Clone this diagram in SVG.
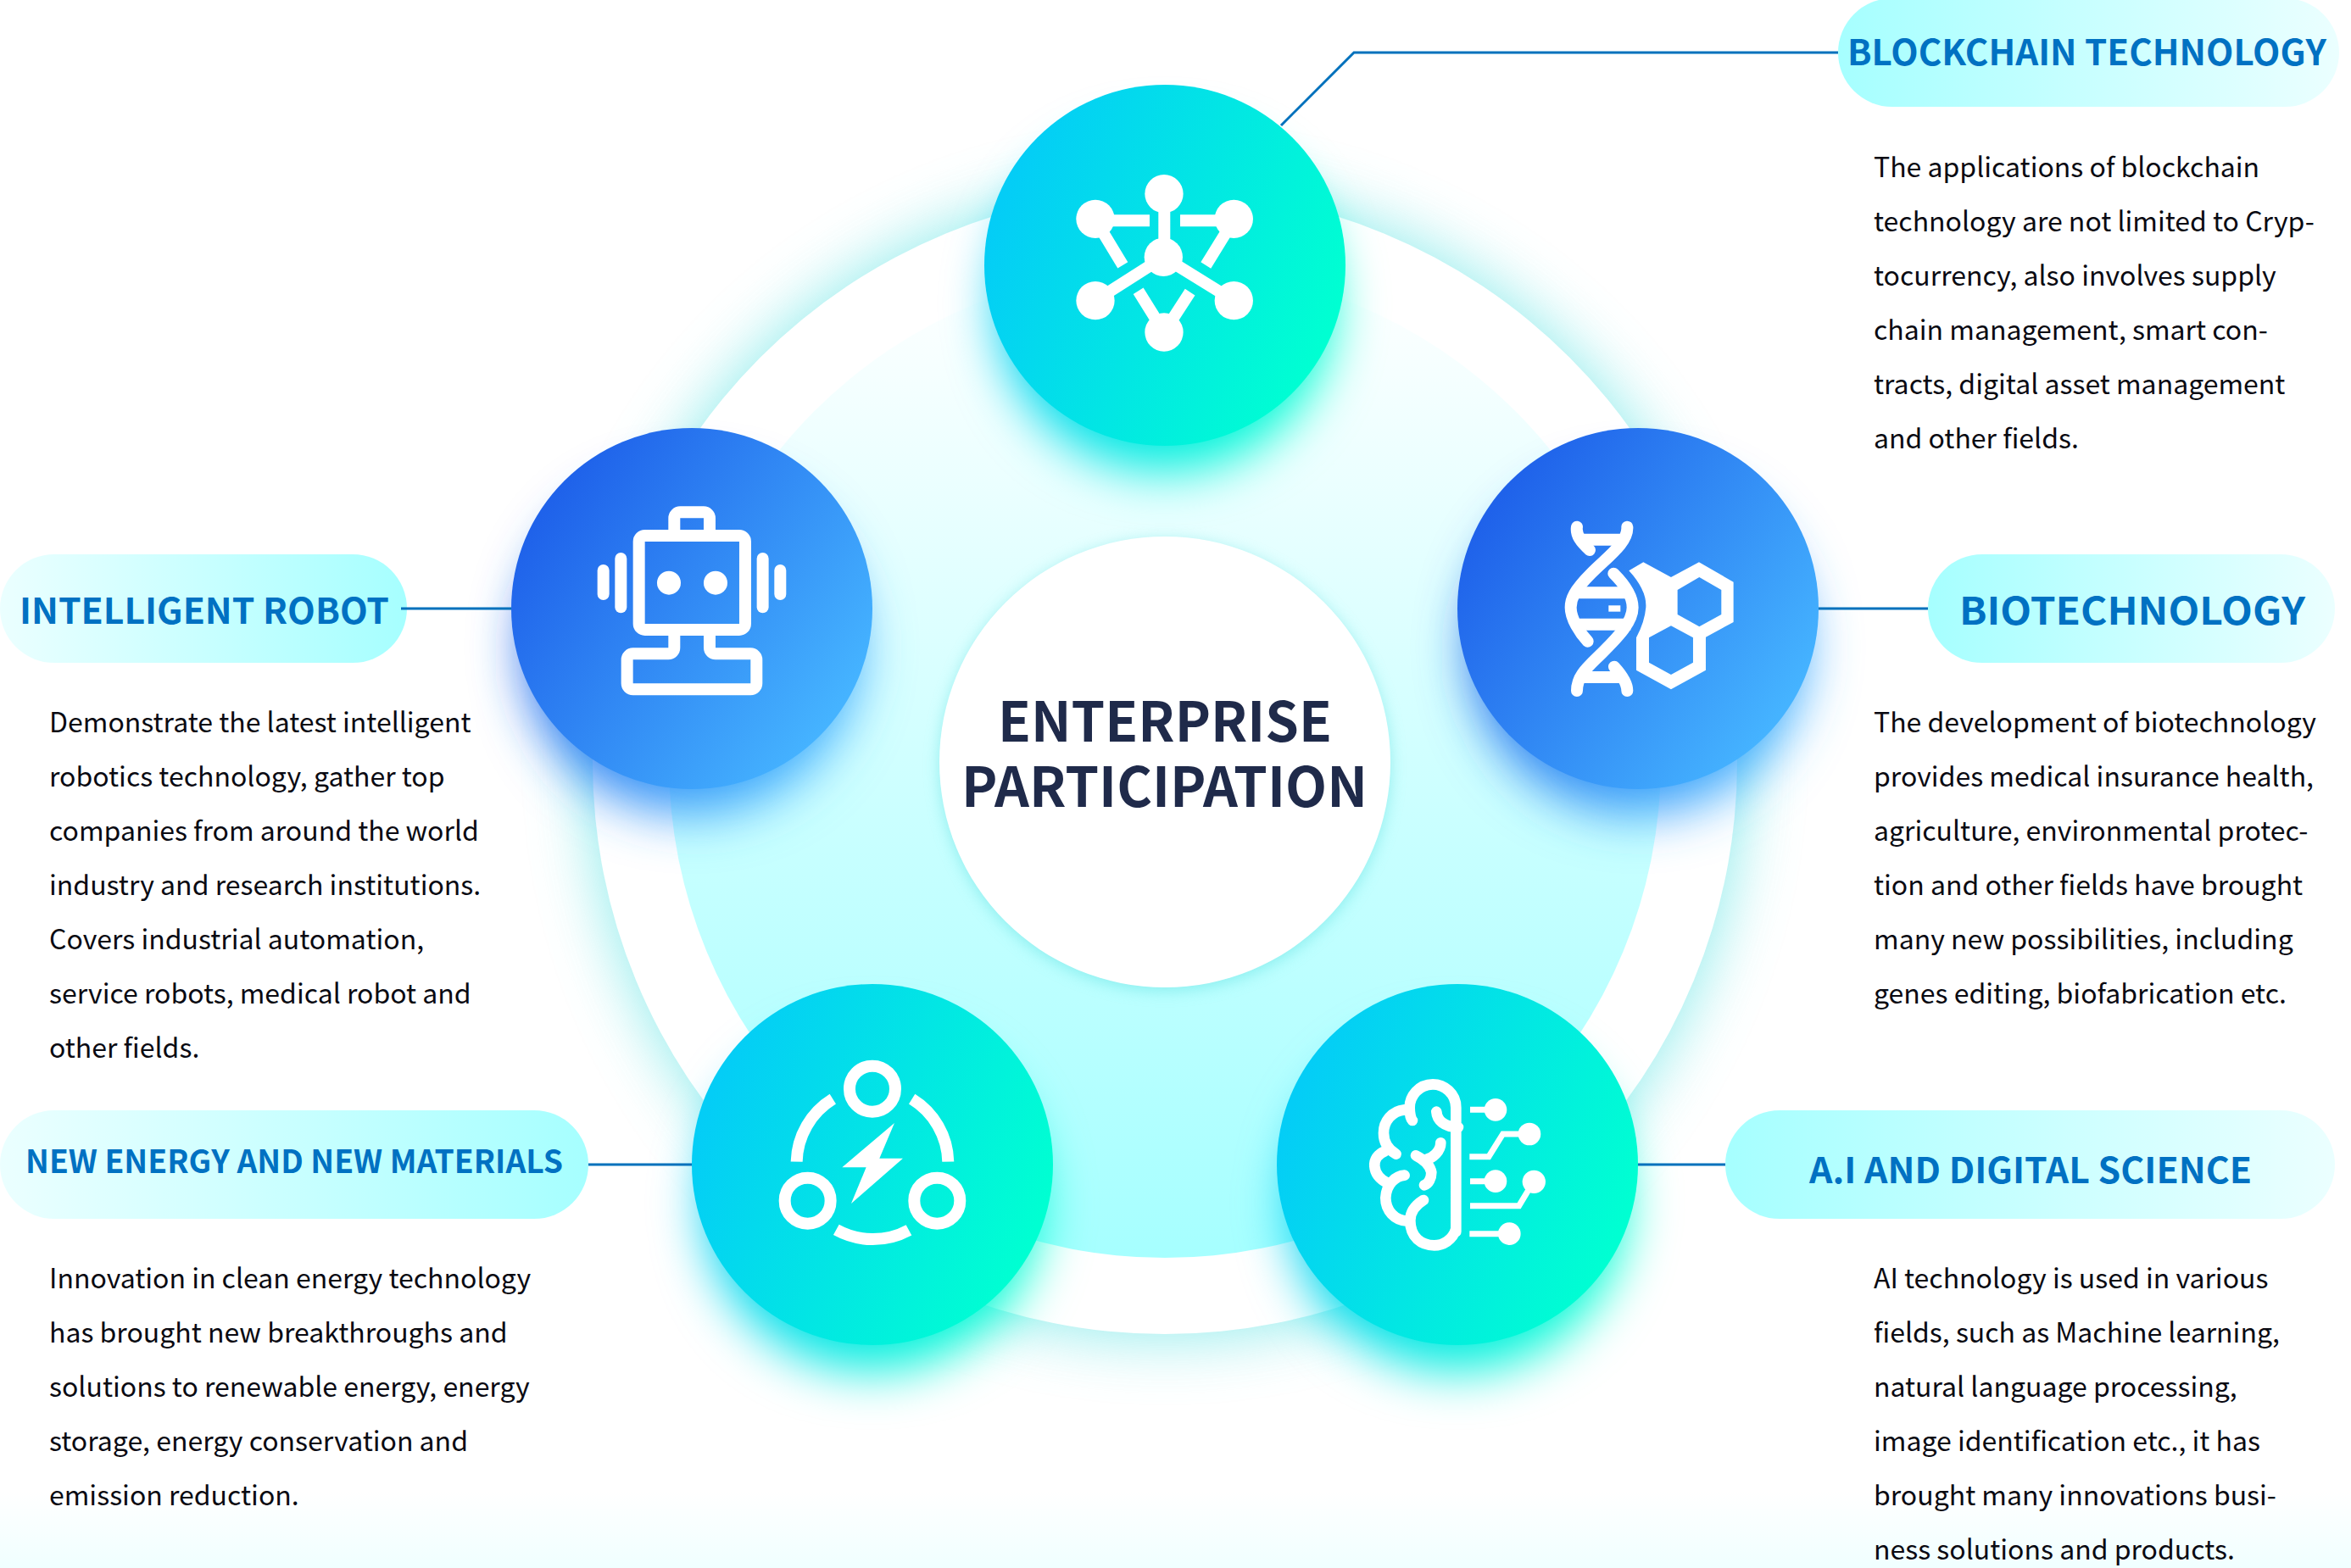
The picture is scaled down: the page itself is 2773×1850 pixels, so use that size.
<svg xmlns="http://www.w3.org/2000/svg" width="2773" height="1850" viewBox="0 0 2773 1850">
<style>
text{font-family:"Noto Sans CJK SC","Noto Sans",sans-serif}
.b{font-size:32px;fill:#0a0a12}
.h{font-size:42px;font-weight:700;fill:#0071c2}
.c{font-size:65px;font-weight:700;fill:#1f2a4a}
.w{fill:#fff}
.s{fill:none;stroke:#fff;stroke-width:42}
.r{fill:none;stroke:#fff;stroke-linecap:round;stroke-linejoin:round}
.ln{fill:none;stroke:#0071bc;stroke-width:3}
</style>
<defs>
<linearGradient id="teal" x1=".05" y1=".32" x2=".95" y2=".68"><stop offset="0" stop-color="#04cdf6"/><stop offset="1" stop-color="#00ffd2"/></linearGradient>
<linearGradient id="blue" x1=".1" y1=".22" x2=".9" y2=".78"><stop offset="0" stop-color="#1f62ea"/><stop offset="1" stop-color="#45b3ff"/></linearGradient>
<linearGradient id="pl"><stop offset="0" stop-color="#ebffff"/><stop offset="1" stop-color="#a6ffff"/></linearGradient>
<linearGradient id="pr"><stop offset="0" stop-color="#a6ffff"/><stop offset="1" stop-color="#ebffff"/></linearGradient>
<linearGradient id="disc" x1="0" y1="0" x2="0" y2="1"><stop offset="0" stop-color="#ffffff"/><stop offset=".25" stop-color="#e8ffff"/><stop offset=".6" stop-color="#c6ffff"/><stop offset="1" stop-color="#a6ffff"/></linearGradient>
<linearGradient id="bg" x1="0" y1="0" x2="0" y2="1"><stop offset="0" stop-color="#fff"/><stop offset="1" stop-color="#f0ffff"/></linearGradient>
<filter id="blur" x="-50%" y="-50%" width="200%" height="200%"><feGaussianBlur stdDeviation="30"/></filter>
<filter id="glow" x="-30%" y="-30%" width="160%" height="160%"><feGaussianBlur stdDeviation="36"/></filter>
<filter id="g2" x="-20%" y="-20%" width="140%" height="140%"><feGaussianBlur stdDeviation="9"/></filter>
</defs>
<rect width="2773" height="1850" fill="#fff"/>
<rect y="1760" width="2773" height="90" fill="url(#bg)"/>
<g id="ring">
<circle cx="1374" cy="899" r="680" fill="#6fe6e6" opacity=".75" filter="url(#glow)"/>
<circle cx="1374" cy="899" r="675" fill="#fff"/>
<circle cx="1374" cy="899" r="585" fill="url(#disc)"/>
</g>
<g id="center">
<circle cx="1374" cy="903" r="266" fill="#58dede" opacity=".5" filter="url(#g2)"/>
<circle cx="1374" cy="899" r="266" fill="#fff"/>
<text class="c" x="1177" y="875" textLength="394" lengthAdjust="spacingAndGlyphs">ENTERPRISE</text>
<text class="c" x="1134" y="952" textLength="479" lengthAdjust="spacingAndGlyphs">PARTICIPATION</text>
</g>
<g id="blockchain">
<rect x="2168" y="-2" width="591" height="128" rx="64" fill="url(#pr)"/>
<text class="h" x="2179" y="77" textLength="565" lengthAdjust="spacingAndGlyphs">BLOCKCHAIN TECHNOLOGY</text>
<text class="b"><tspan x="2210" y="209">The applications of blockchain</tspan><tspan x="2210" y="273">technology are not limited to Cryp-</tspan><tspan x="2210" y="337">tocurrency, also involves supply</tspan><tspan x="2210" y="401">chain management, smart con-</tspan><tspan x="2210" y="465">tracts, digital asset management</tspan><tspan x="2210" y="529">and other fields.</tspan></text>
<circle cx="1374" cy="358" r="198" fill="url(#teal)" filter="url(#blur)"/>
<circle cx="1374" cy="313" r="213" fill="url(#teal)"/>
<g transform="translate(1150 80) scale(.3333)">
<g class="w"><circle cx="669" cy="446" r="68"/><circle cx="426" cy="535" r="68"/><circle cx="916" cy="535" r="68"/><circle cx="667" cy="670" r="68"/><circle cx="426" cy="824" r="68"/><circle cx="916" cy="824" r="68"/><circle cx="669" cy="936" r="68"/></g>
<path class="s" d="M670 446V670M426 541H618M916 541H726M430 545L523 699M912 545L817 699M667 670L426 824M667 670L916 824M669 936L578 790M669 936L761 794"/>
</g>
</g>
<g id="robot">
<rect x="0" y="654" width="480" height="128" rx="64" fill="url(#pl)"/>
<text class="h" x="23" y="736" textLength="436" lengthAdjust="spacingAndGlyphs">INTELLIGENT ROBOT</text>
<text class="b"><tspan x="58" y="864">Demonstrate the latest intelligent</tspan><tspan x="58" y="928">robotics technology, gather top</tspan><tspan x="58" y="992">companies from around the world</tspan><tspan x="58" y="1056">industry and research institutions.</tspan><tspan x="58" y="1120">Covers industrial automation,</tspan><tspan x="58" y="1184">service robots, medical robot and</tspan><tspan x="58" y="1248">other fields.</tspan></text>
<circle cx="816" cy="763" r="198" fill="url(#blue)" filter="url(#blur)"/>
<circle cx="816" cy="718" r="213" fill="url(#blue)"/>
<g transform="translate(590 500) scale(.3333)">
<rect class="s" x="491" y="396" width="376" height="333" rx="21"/>
<path class="s" d="M616 380V334a21 21 0 0 1 21-21h83a21 21 0 0 1 21 21V380"/>
<path class="s" d="M616 745V793a21 21 0 0 1-21 21H470a21 21 0 0 0-21 21V919a21 21 0 0 0 21 21H886a21 21 0 0 0 21-21V835a21 21 0 0 0-21-21H762a21 21 0 0 1-21-21V745"/>
<g class="w"><rect x="344" y="498" width="42" height="126" rx="21"/><rect x="406" y="456" width="42" height="214" rx="21"/><rect x="908" y="456" width="42" height="214" rx="21"/><rect x="970" y="498" width="42" height="126" rx="21"/><circle cx="597" cy="563" r="42"/><circle cx="762" cy="563" r="42"/></g>
</g>
</g>
<g id="biotech">
<rect x="2274" y="654" width="480" height="128" rx="64" fill="url(#pr)"/>
<text class="h" x="2311" y="737" style="font-size:45px" textLength="408" lengthAdjust="spacingAndGlyphs">BIOTECHNOLOGY</text>
<text class="b"><tspan x="2210" y="864">The development of biotechnology</tspan><tspan x="2210" y="928">provides medical insurance health,</tspan><tspan x="2210" y="992">agriculture, environmental protec-</tspan><tspan x="2210" y="1056">tion and other fields have brought</tspan><tspan x="2210" y="1120">many new possibilities, including</tspan><tspan x="2210" y="1184">genes editing, biofabrication etc.</tspan></text>
<circle cx="1932" cy="763" r="198" fill="url(#blue)" filter="url(#blur)"/>
<circle cx="1932" cy="718" r="213" fill="url(#blue)"/>
<g transform="translate(1710 500) scale(.3333)">
<path class="r" stroke-width="42" d="M628 365C632 420 560 470 500 530C440 590 428 620 428 650C428 690 460 740 488 770M580 530C620 570 647 610 647 650C647 700 600 750 540 810C490 860 450 890 450 945M582 860C605 885 628 915 628 945M450 365C445 395 465 420 495 447"/>
<path class="s" stroke-width="44" d="M465 410H612M440 598H640M440 710H640M465 897H612"/>
<rect class="w" x="562" y="643" width="42" height="22"/>
<path class="w" fill-rule="evenodd" d="M634 520L685 490L783 543L882 490L1004 560V702L906 755V872L783 940L660 872V757Q690 700 694 650Q698 590 634 520ZM883 543L806 588V675L883 718L961 675V588ZM783 715L705 757V845L783 888L861 845V757Z"/>
</g>
</g>
<g id="energy">
<rect x="0" y="1310" width="694" height="128" rx="64" fill="url(#pl)"/>
<text class="h" x="30" y="1384" style="font-size:38px" textLength="634" lengthAdjust="spacingAndGlyphs">NEW ENERGY AND NEW MATERIALS</text>
<text class="b"><tspan x="58" y="1520">Innovation in clean energy technology</tspan><tspan x="58" y="1584">has brought new breakthroughs and</tspan><tspan x="58" y="1648">solutions to renewable energy, energy</tspan><tspan x="58" y="1712">storage, energy conservation and</tspan><tspan x="58" y="1776">emission reduction.</tspan></text>
<circle cx="1029" cy="1419" r="198" fill="url(#teal)" filter="url(#blur)"/>
<circle cx="1029" cy="1374" r="213" fill="url(#teal)"/>
<g transform="translate(800 1150) scale(.3333)">
<g class="s"><circle cx="687" cy="404" r="81"/><circle cx="458" cy="800" r="81"/><circle cx="916" cy="800" r="81"/></g>
<path class="s" stroke-width="44" d="M547 440A268 268 0 0 0 419 662M827 440A268 268 0 0 1 955 662M559 903A268 268 0 0 0 816 904"/>
<polygon class="w" points="765,525 712,650 795,650 612,810 665,682 580,682"/>
</g>
</g>
<g id="ai">
<rect x="2035" y="1310" width="719" height="128" rx="64" fill="url(#pr)"/>
<text class="h" x="2134" y="1396" textLength="522" lengthAdjust="spacingAndGlyphs">A.I AND DIGITAL SCIENCE</text>
<text class="b"><tspan x="2210" y="1520">AI technology is used in various</tspan><tspan x="2210" y="1584">fields, such as Machine learning,</tspan><tspan x="2210" y="1648">natural language processing,</tspan><tspan x="2210" y="1712">image identification etc., it has</tspan><tspan x="2210" y="1776">brought many innovations busi-</tspan><tspan x="2210" y="1840">ness solutions and products.</tspan></text>
<circle cx="1719" cy="1419" r="198" fill="url(#teal)" filter="url(#blur)"/>
<circle cx="1719" cy="1374" r="213" fill="url(#teal)"/>
<g transform="translate(1500 1150) scale(.3333)">
<path class="r" stroke-width="38" d="M652 910V470C652 420 610 388 570 388C520 388 488 430 488 470C488 490 492 510 498 516M470 478C425 482 396 520 396 560C396 595 415 620 440 635M400 625C375 635 362 655 364 678C366 705 385 725 410 738M470 710C440 712 405 740 403 790C403 835 435 870 480 872M652 900C640 940 605 958 575 958C530 958 490 930 490 870C490 840 510 815 537 798M583 485C585 515 610 540 660 540M598 595C598 625 570 650 545 655M510 640C530 650 560 670 565 700C565 720 555 740 540 745"/>
<path fill="none" stroke="#fff" stroke-width="21" d="M702 478H790M700 644H768L818 564H910M702 731H790M702 818H875L925 735M700 917H840"/>
<g class="w"><circle cx="792" cy="478" r="40"/><circle cx="912" cy="564" r="40"/><circle cx="792" cy="731" r="40"/><circle cx="928" cy="733" r="41"/><circle cx="841" cy="917" r="40"/></g>
</g>
</g>
<g id="connectors">
<polyline class="ln" points="1511,148 1597,62 2168,62"/>
<line class="ln" x1="473" y1="718" x2="603" y2="718"/>
<line class="ln" x1="2145" y1="718" x2="2274" y2="718"/>
<line class="ln" x1="694" y1="1374" x2="816" y2="1374"/>
<line class="ln" x1="1932" y1="1374" x2="2035" y2="1374"/>
</g>
</svg>
